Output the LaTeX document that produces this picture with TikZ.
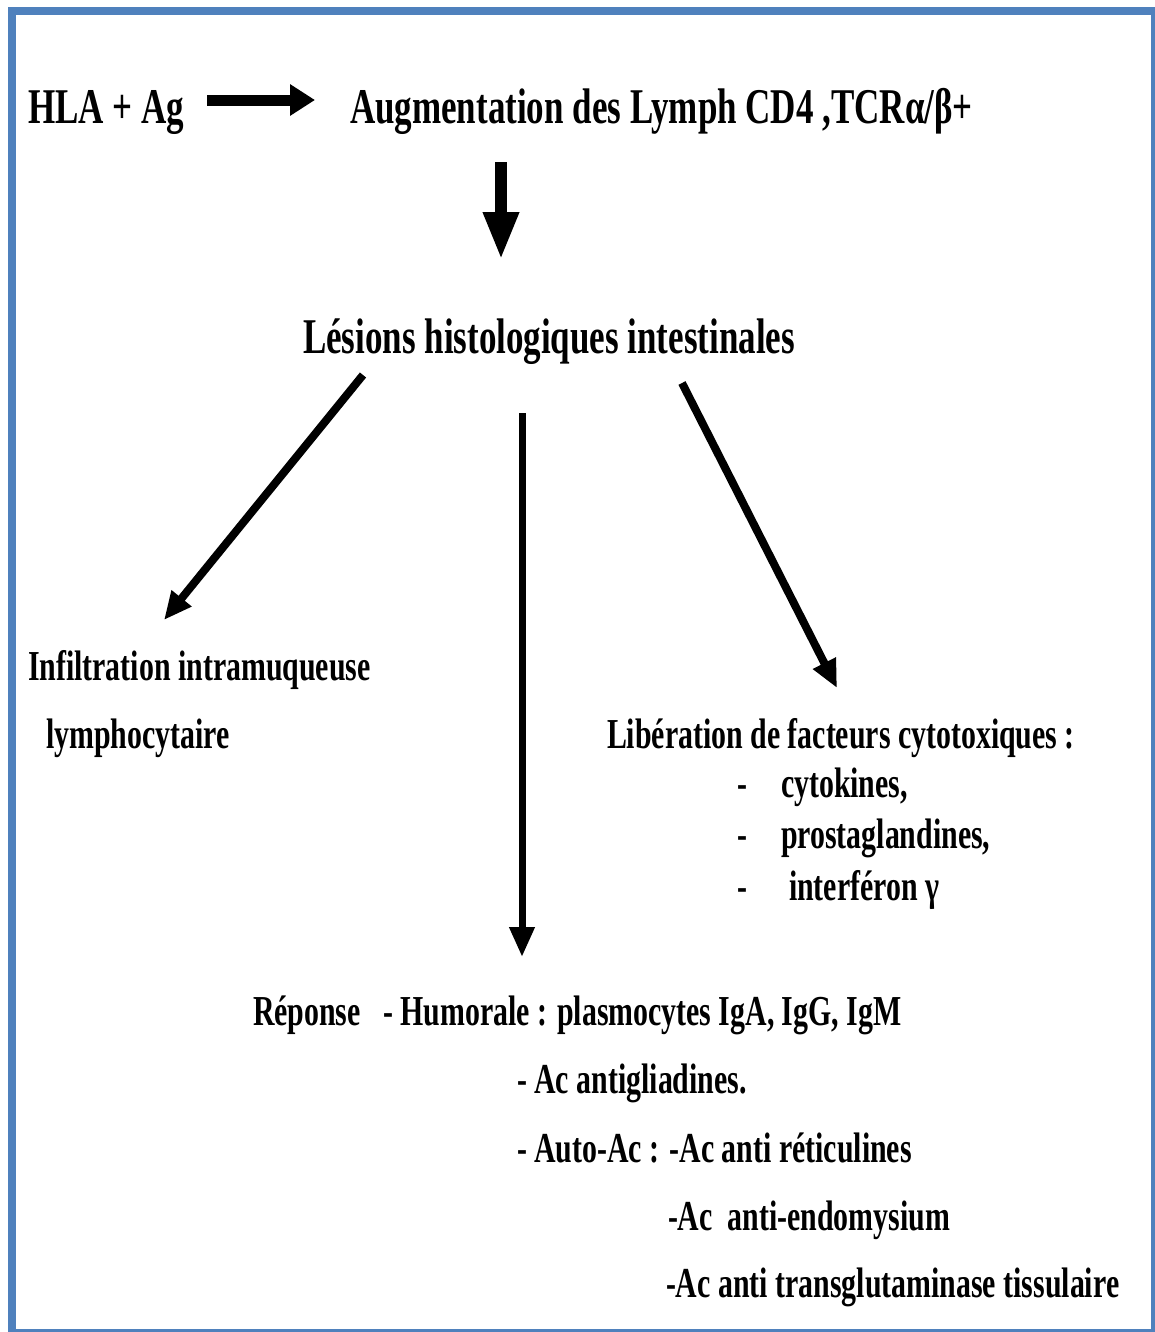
\documentclass[tikz,border=0pt]{standalone}
\usepackage{fontspec}
\setmainfont{Liberation Serif}[FakeStretch=0.7]
\usetikzlibrary{arrows.meta}
\definecolor{frameblue}{RGB}{79,129,189}

\begin{document}
\begin{tikzpicture}[x=0.75pt,y=-0.75pt,
  every node/.style={inner sep=0pt,outer sep=0pt,anchor=base west},
  big/.style={font=\fontsize{37.5}{40}\selectfont\bfseries},
  mid/.style={font=\fontsize{32}{36}\selectfont\bfseries},
  fatarrow/.style={line width=8.25pt,-{Triangle[length=18.75pt,width=22.5pt]}},
  downarrow/.style={line width=9pt,-{Triangle[length=36pt,width=24.75pt]}},
  diagarrow/.style={line width=6pt,-{Triangle[length=21pt,width=18pt]}},
  longarrow/.style={line width=5.25pt,-{Triangle[length=22.5pt,width=18pt]}}
]
\useasboundingbox (0,0) rectangle (1155,1332);

% outer frame
\begin{scope}
  \clip (0,0) rectangle (1155,1332);
  \draw[frameblue,line width=6pt] (12,11) rectangle (1155,1333);
\end{scope}

% texts
\node[big] (hla) at (28,123) {HLA + Ag};
\node[big] (augm) at (350,123) {Augmentation des Lymph CD4 ,TCRα/β+};
\node[big] (lesions) at (303,353) {Lésions histologiques intestinales};

\node[mid] (infil) at (28,680) {Infiltration intramuqueuse};
\node[mid] (lymph) at (46,748) {lymphocytaire};

\node[mid] (liber) at (607,748) {Libération de facteurs cytotoxiques :};
\node[mid] (d1) at (737,797) {-};
\node[mid] (d2) at (737,848) {-};
\node[mid] (d3) at (737,900) {-};
\node[mid] (cyto) at (781,797) {cytokines,};
\node[mid] (prosta) at (781,848) {prostaglandines,};
\node[mid] (interf) at (789,900) {interféron γ};

\node[mid] (rep) at (253,1025) {Réponse};
\node[mid] (hum) at (383,1025) {- Humorale : plasmocytes IgA, IgG, IgM};
\node[mid] (antigl) at (517,1093) {- Ac antigliadines.};
\node[mid] (autoac) at (517,1162) {- Auto-Ac : -Ac anti réticulines};
\node[mid] (endo) at (668,1230) {-Ac\ \ anti-endomysium};
\node[mid] (transg) at (666,1297) {-Ac anti transglutaminase tissulaire};

% connectors
\draw[fatarrow] ([shift={(179,-23)}]hla.base west) -- ([shift={(-35,-23)}]augm.base west);
\draw[downarrow] ([shift={(151,39)}]augm.base west) -- ([shift={(198,-93)}]lesions.base west);
\draw[diagarrow] ([shift={(60,22)}]lesions.base west) -- ([shift={(136,-60)}]infil.base west);
\draw[longarrow] ([shift={(219,60)}]lesions.base west) -- ([shift={(269,-68)}]rep.base west);
\draw[diagarrow] ([shift={(379,30)}]lesions.base west) -- ([shift={(230,-60)}]liber.base west);
\end{tikzpicture}
\end{document}
